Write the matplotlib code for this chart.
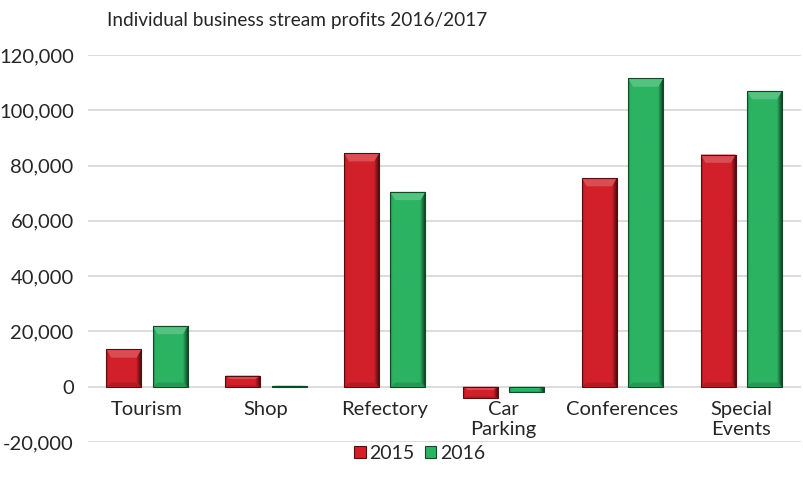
import matplotlib
matplotlib.use("Agg")
import matplotlib.pyplot as plt
import numpy as np
from matplotlib.patches import Rectangle, Polygon
from matplotlib.colors import to_rgb
from matplotlib.ticker import FuncFormatter

plt.rcParams['font.family'] = ['Lato', 'DejaVu Sans']

title = "Individual business stream profits 2016/2017"
categories = ["Tourism", "Shop", "Refectory", "Car\nParking", "Conferences", "Special\nEvents"]
series_names = ["2015", "2016"]
values_2015 = [13500, 4000, 84500, -4000, 75500, 84000]
values_2016 = [22000, 400, 70500, -2000, 111500, 107000]
colors = ["#d2202a", "#2bb362"]
y_ticks = [-20000, 0, 20000, 40000, 60000, 80000, 100000, 120000]

fig = plt.figure(figsize=(8.04, 4.91), dpi=100)
ax = fig.add_axes([0.109, 0.0998, 0.887, 0.7882])

x = np.arange(len(categories))
width = 0.295
offset = 0.195
text_color = "#262626"


def shade(c, f):
    r = np.array(to_rgb(c))
    if f < 1:
        return tuple(r * f)
    return tuple(r + (1 - r) * (f - 1))


def beveled(bars, base):
    for p in bars:
        x0, y0 = p.get_x(), p.get_y()
        w, h = p.get_width(), p.get_height()
        y1 = y0 + h
        lo, hi = min(y0, y1), max(y0, y1)
        t = np.linspace(0, 1, 60)
        f = np.ones_like(t)
        f = np.where(t < 0.07, 0.78 + (t / 0.07) * 0.22, f)
        f = np.where(t > 0.84, 1 - (t - 0.84) / 0.16 * 0.72, f)
        img = np.array([[shade(base, v) for v in f]])
        im = ax.imshow(img, extent=[x0, x0 + w, lo, hi], aspect='auto',
                       origin='lower', zorder=3, interpolation='bilinear')
        im.set_clip_path(p)
        bev = min(3000, (hi - lo) * 0.3)
        ins = w * 0.14
        top = Polygon([[x0, hi], [x0 + w, hi], [x0 + w - ins, hi - bev], [x0 + ins, hi - bev]],
                      closed=True, facecolor=shade(base, 1.2), edgecolor='none', zorder=4)
        ax.add_patch(top)
        bot = Polygon([[x0, lo], [x0 + w, lo], [x0 + w - ins, lo + bev * 0.5], [x0 + ins, lo + bev * 0.5]],
                      closed=True, facecolor=shade(base, 0.85), edgecolor='none', zorder=4)
        ax.add_patch(bot)
        ax.add_patch(Rectangle((x0, lo), w, hi - lo, facecolor='none',
                               edgecolor=shade(base, 0.4), linewidth=0.8, zorder=5))


b1 = ax.bar(x - offset, values_2015, width, color=colors[0], zorder=2, label=series_names[0])
b2 = ax.bar(x + offset, values_2016, width, color=colors[1], zorder=2, label=series_names[1])
beveled(b1, colors[0])
beveled(b2, colors[1])

ax.set_xlim(-0.5, len(categories) - 0.5)
ax.set_ylim(y_ticks[0], y_ticks[-1])
ax.set_yticks(y_ticks)
ax.yaxis.set_major_formatter(FuncFormatter(lambda v, p: f"{int(v):,}"))
ax.tick_params(axis='y', length=0, pad=10, labelsize=14.5, labelcolor=text_color)
ax.set_xticks([])
ax.grid(axis='y', color='#d9d9d9', linewidth=1.3, zorder=0)
ax.set_axisbelow(True)
for s in ax.spines.values():
    s.set_visible(False)

for xi, lab in zip(x, categories):
    ax.annotate(lab, xy=(xi, 0), xytext=(0, -10.5), textcoords='offset points',
                ha='center', va='top', fontsize=14.5, color=text_color, linespacing=1.17)

fig.text(0.133, 0.958, title, fontsize=13.7, color=text_color, ha='left', va='center')

handles = [Rectangle((0, 0), 1, 1, facecolor=c, edgecolor=shade(c, 0.4), linewidth=0.8) for c in colors]
fig.legend(handles, series_names, loc='center', bbox_to_anchor=(0.522, 0.077), ncol=2,
           frameon=False, fontsize=14, handlelength=0.6, handleheight=0.6,
           handletextpad=0.2, columnspacing=0.5, labelcolor=text_color)

fig.savefig("out.png", dpi=100)
